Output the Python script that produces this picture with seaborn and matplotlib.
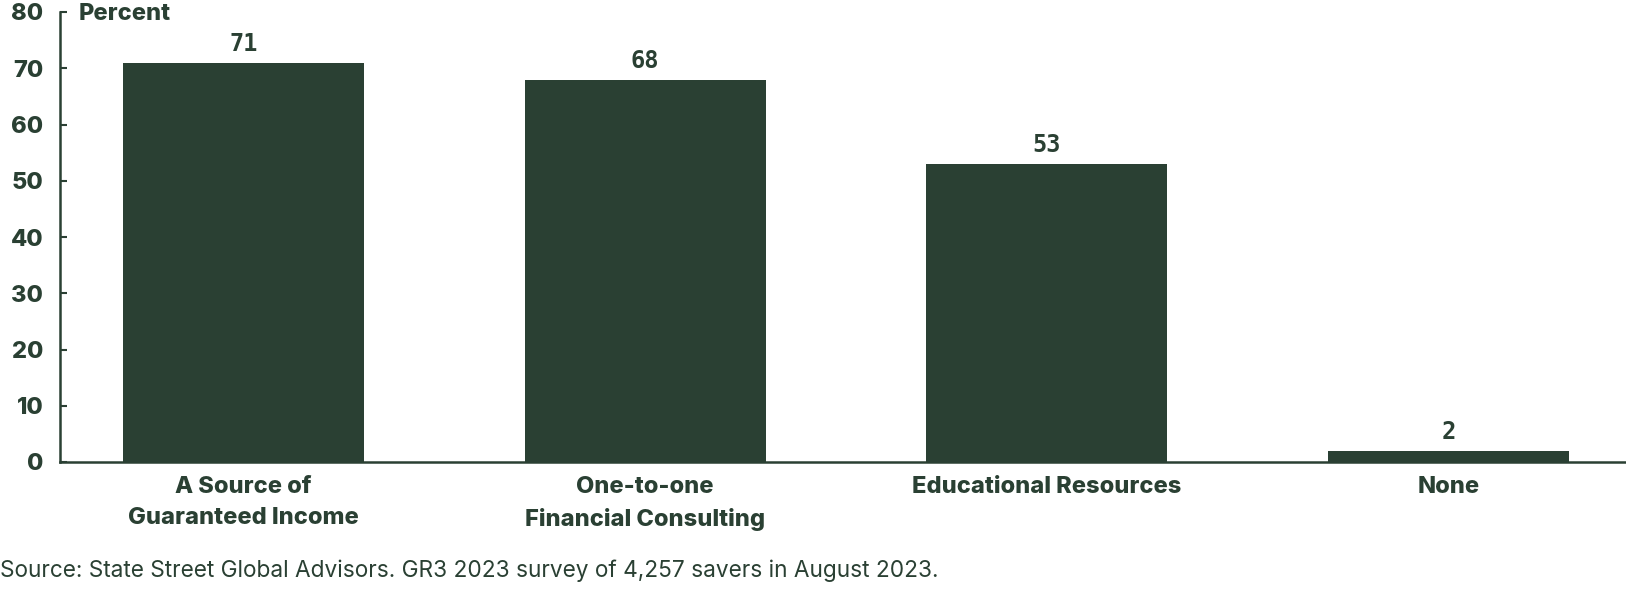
import matplotlib
matplotlib.use("Agg")
import matplotlib.pyplot as plt
import seaborn as sns
import pandas as pd

categories = ["A Source of\nGuaranteed Income", "One-to-one\nFinancial Consulting",
              "Educational Resources", "None"]
values = [71, 68, 53, 2]
value_labels = ["71", "68", "53", "2"]
y_ticks = [0, 10, 20, 30, 40, 50, 60, 70, 80]
axis_label = "Percent"
source = "Source: State Street Global Advisors. GR3 2023 survey of 4,257 savers in August 2023."

GREEN = "#2A4033"

sns.set_theme(style="white")
plt.rcParams['font.family'] = ['Inter', 'DejaVu Sans']

df = pd.DataFrame({"cat": categories, "val": values})

fig = plt.figure(figsize=(16.26, 5.9), dpi=100)
ax = fig.add_axes([60/1626, 1 - 462/590, 1 - 60/1626, (462 - 12)/590])

sns.barplot(data=df, x="cat", y="val", color=GREEN, width=0.6, saturation=1,
            linewidth=0, ax=ax)

ax.set_ylim(0, 80)
ax.set_xlim(-0.457, 3.442)
ax.set_yticks(y_ticks)
ax.set_yticklabels([str(t) for t in y_ticks], fontsize=17, fontweight=800, color=GREEN)
ax.tick_params(axis="y", direction="in", length=5, width=1.5, color=GREEN, pad=12, left=True)
ax.tick_params(axis="x", length=0, pad=10)
for lbl in ax.get_xticklabels():
    lbl.set_fontsize(17)
    lbl.set_fontweight(800)
    lbl.set_color(GREEN)
    lbl.set_linespacing(1.55)
ax.set_xlabel("")
ax.set_ylabel("")

for s in ["top", "right"]:
    ax.spines[s].set_visible(False)
for s in ["left", "bottom"]:
    ax.spines[s].set_color(GREEN)
    ax.spines[s].set_linewidth(1.8)

for p, lab in zip(ax.patches, value_labels):
    ax.annotate(lab, (p.get_x() + p.get_width() / 2, p.get_height()),
                xytext=(0, 5), textcoords="offset points", ha="center", va="bottom",
                fontsize=17, fontweight="bold", color=GREEN, family="DejaVu Sans Mono")

ax.text(0.012, 0.995, axis_label, transform=ax.transAxes, ha="left", va="center",
        fontsize=17, fontweight=800, color=GREEN)

fig.text(0.0, 1 - 571/590, source, ha="left", va="center", fontsize=16.3, color=GREEN)

fig.savefig("out.png", dpi=100)
